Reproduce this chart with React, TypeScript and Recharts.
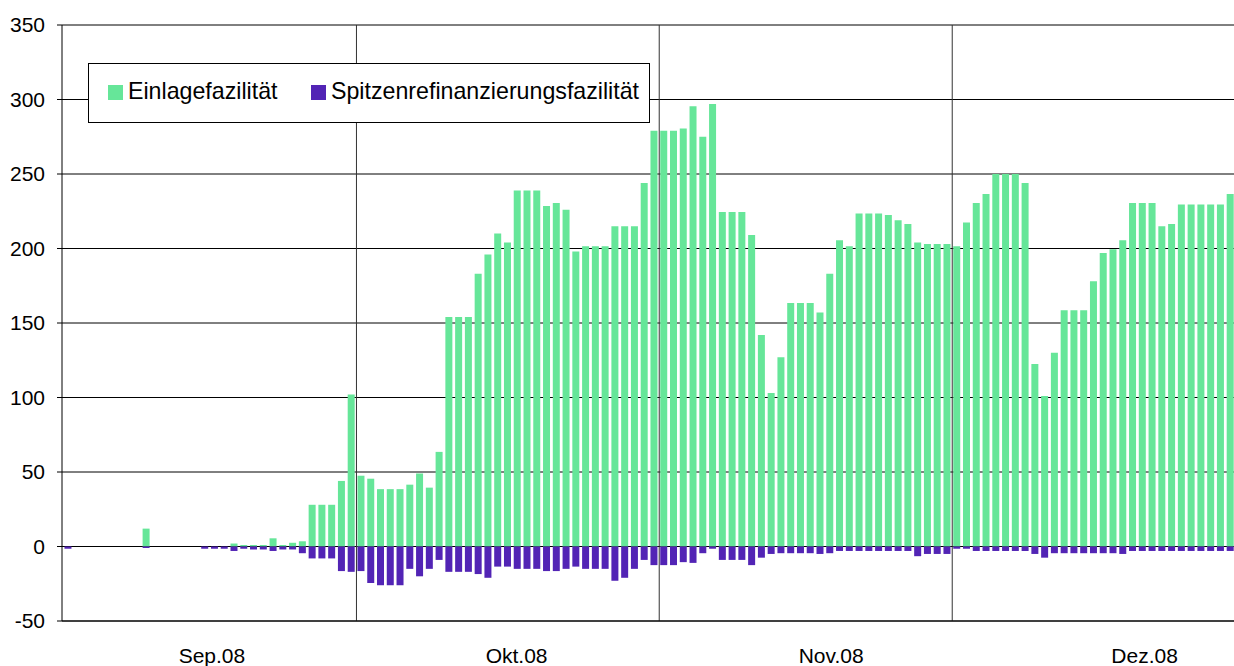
import React from 'react';
import { BarChart, Bar, XAxis, YAxis, CartesianGrid, ReferenceLine, Legend } from 'recharts';

// Daily values, 1 Sep 2008 – 29 Dec 2008 (EUR bn)
const einlagefazilitaet = [
  0, 0, 0, 0, 0, 0, 0, 0, 12, 0,
  0, 0, 0, 0, 0, 0, 0, 2, 1, 1,
  1, 5.5, 1, 2.5, 3.5, 28, 28, 28, 44, 102,
  47.5, 45.5, 38.5, 38.5, 38.5, 41.5, 49, 39.5, 63.5, 154,
  154, 154, 183, 196, 210, 204, 239, 239, 239, 228.5,
  230.5, 226, 198, 201.5, 201.5, 201.5, 215, 215, 215, 244,
  279, 279, 279, 280.5, 295.5, 275, 297, 224.5, 224.5, 224.5,
  209, 142, 103, 127, 163.5, 163.5, 163.5, 157, 183, 205.5,
  201.5, 223.5, 223.5, 223.5, 222.5, 219, 216.5, 204, 203, 203,
  203, 201.5, 217.5, 230.5, 236.5, 250, 250, 250, 244, 122.5,
  101, 130, 158.5, 158.5, 158.5, 178, 197, 199.5, 205.5, 230.5,
  230.5, 230.5, 215, 216.5, 229.5, 229.5, 229.5, 229.5, 229.5, 236.5,
];

const spitzenrefinanzierungsfazilitaet = [
  -1.5, 0, 0, 0, 0, 0, 0, 0, -1, 0,
  0, 0, 0, 0, -1.5, -1.5, -1.5, -3, -1.5, -2,
  -2, -3, -2, -2, -4.5, -8, -8, -8, -16.5, -17,
  -16.5, -24.5, -26, -26, -26, -15, -20, -15, -9, -17,
  -17, -17, -18.5, -21, -13.5, -13.5, -15, -15, -15, -16.5,
  -16.5, -15, -13.5, -15, -15, -15, -23, -21, -15, -9,
  -12.5, -12.5, -12.5, -10.5, -11, -4.5, -1.5, -9, -9, -9,
  -12.5, -7.5, -5, -4.5, -4.5, -4.5, -4.5, -5, -4.5, -3,
  -3, -3, -3, -3, -3, -3, -3, -6.5, -5, -5,
  -5, -1.5, -1.5, -3, -3, -3, -3, -3, -3, -5,
  -7.5, -4.5, -4.5, -4.5, -4.5, -4.5, -4.5, -4.5, -5, -3,
  -3, -3, -3, -3, -3, -3, -3, -3, -3, -3,
];

const seriesNames = ['Einlagefazilität', 'Spitzenrefinanzierungsfazilität'];
const monthLabels = ['Sep.08', 'Okt.08', 'Nov.08', 'Dez.08'];
const monthLabelDays = [15.7, 46.9, 79.1, 111.2];
const monthStartDays = [31, 62, 92];
const yTicks = [-50, 0, 50, 100, 150, 200, 250, 300, 350];

const GREEN = '#66E699';
const PURPLE = '#5224B5';
const FONT = '"Liberation Sans", Arial, Helvetica, sans-serif';

const data = einlagefazilitaet.map((v, i) => ({
  day: i + 1,
  einlage: v,
  spitzen: spitzenrefinanzierungsfazilitaet[i],
}));

const renderLegend = () => (
  <div
    style={{
      position: 'relative',
      width: 562,
      height: 60,
      boxSizing: 'border-box',
      border: '1px solid #000',
      background: '#fff',
      fontFamily: FONT,
      fontSize: 23.2,
      lineHeight: 1,
      color: '#000',
    }}
  >
    <span style={{ position: 'absolute', left: 19, top: 21, width: 15, height: 15, background: GREEN }} />
    <span style={{ position: 'absolute', left: 39, top: 16, whiteSpace: 'nowrap' }}>{seriesNames[0]}</span>
    <span style={{ position: 'absolute', left: 222, top: 21, width: 15, height: 15, background: PURPLE }} />
    <span style={{ position: 'absolute', left: 242, top: 16, whiteSpace: 'nowrap' }}>{seriesNames[1]}</span>
  </div>
);

export default function App() {
  return (
    <div style={{ position: 'absolute', left: 0, top: 0, width: 1234, height: 666, background: '#fff' }}>
      <BarChart
        width={1234}
        height={666}
        data={data}
        stackOffset="sign"
        margin={{ top: 25, right: 0, bottom: 0, left: 0 }}
      >
        <CartesianGrid vertical={false} stroke="#000" strokeWidth={1} />
        <XAxis
          type="number"
          dataKey="day"
          domain={[0.35, 120.35]}
          allowDataOverflow
          ticks={monthLabelDays}
          interval={0}
          tickFormatter={(v: number) => monthLabels[monthLabelDays.indexOf(v)] ?? ''}
          height={45}
          tickLine={false}
          tickSize={0}
          tickMargin={27}
          axisLine={{ stroke: '#000' }}
          tick={{ fill: '#000', fontSize: 21, fontFamily: FONT }}
        />
        <YAxis
          type="number"
          domain={[-50, 350]}
          ticks={yTicks}
          interval={0}
          width={62}
          tickSize={5}
          tickMargin={12}
          axisLine={{ stroke: '#000' }}
          tickLine={{ stroke: '#000' }}
          tick={{ fill: '#000', fontSize: 21, fontFamily: FONT }}
        />
        {monthStartDays.map((d) => (
          <ReferenceLine key={d} x={d - 0.5} stroke="#333" strokeWidth={1} />
        ))}
        <Legend
          layout="vertical"
          align="center"
          verticalAlign="middle"
          content={renderLegend}
          wrapperStyle={{ left: 88, top: 63, width: 562, height: 60 }}
        />
        <Bar dataKey="einlage" name={seriesNames[0]} stackId="a" fill={GREEN} barSize={7} isAnimationActive={false} />
        <Bar dataKey="spitzen" name={seriesNames[1]} stackId="a" fill={PURPLE} barSize={7} isAnimationActive={false} />
      </BarChart>
    </div>
  );
}
